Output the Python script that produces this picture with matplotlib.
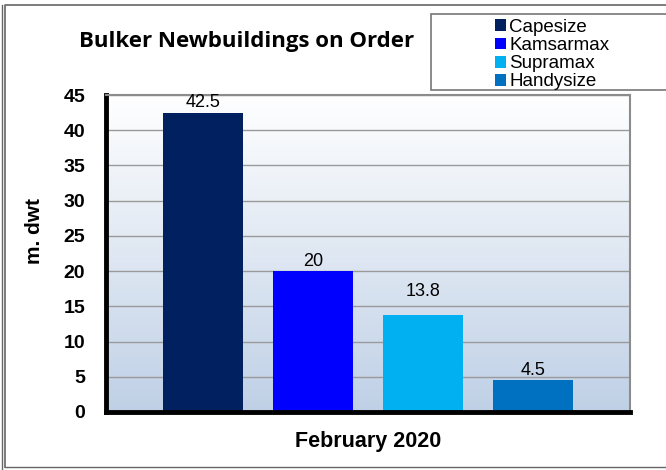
import numpy as np
import matplotlib
matplotlib.use('Agg')
import matplotlib.pyplot as plt
from matplotlib.patches import Patch, Rectangle
from matplotlib.lines import Line2D

# data
categories = ['Capesize', 'Kamsarmax', 'Supramax', 'Handysize']
values = [42.5, 20, 13.8, 4.5]
colors = ['#002060', '#0000FF', '#00B0F0', '#0070C0']
label_offsets = [1, 1, 11, 1]  # points above bar top

plt.rcParams['font.family'] = ['Liberation Sans', 'DejaVu Sans']

fig = plt.figure(figsize=(6.66, 4.70), dpi=100)
ax = fig.add_axes([106 / 666, 1 - 412 / 470, 524 / 666, 317 / 470])

# gradient background
grad = np.linspace(0, 1, 256).reshape(-1, 1)
top = np.array([1.0, 1.0, 1.0])
bot = np.array([0xBF, 0xD0, 0xE6]) / 255
img = top + (bot - top) * grad[..., None]
ax.imshow(img, extent=[0, 1, 0, 1], transform=ax.transAxes, aspect='auto', zorder=0)

x = np.arange(len(categories))
bars = ax.bar(x, values, width=0.727, color=colors, zorder=2)
for b, v, off in zip(bars, values, label_offsets):
    ax.annotate(f'{v:g}', (b.get_x() + b.get_width() / 2, v), xytext=(0, off),
                textcoords='offset points', ha='center', va='bottom', fontsize=13)

ax.set_xlim(-0.882, 3.882)
ax.set_ylim(0, 45)
ax.set_yticks(range(0, 46, 5))
ax.yaxis.grid(True, color='#9a9a9a', linewidth=1)
for gl in ax.get_ygridlines():
    gl.set_zorder(1)
ax.set_xticks([])
ax.tick_params(axis='y', length=0, pad=15, labelsize=14)
for t in ax.get_yticklabels():
    t.set_fontweight('bold')

for s in ['left', 'bottom']:
    ax.spines[s].set_color('black')
    ax.spines[s].set_linewidth(3.5)
for s in ['top', 'right']:
    ax.spines[s].set_color('#8c8c8c')
    ax.spines[s].set_linewidth(1.5)

ax.set_ylabel('m. dwt', fontsize=15, fontweight='bold')
ax.yaxis.set_label_coords((44 - 106) / 524, (412 - 231) / 317)
ax.set_xlabel('February 2020', fontsize=15.5, fontweight='bold', labelpad=14)

fig.text(247 / 666, 1 - 47 / 470, 'Bulker Newbuildings on Order', ha='center', va='baseline',
         fontsize=16, fontweight='bold', family=['Open Sans', 'DejaVu Sans'])

# legend box
fig.patches.append(Rectangle((431 / 666, 1 - 90 / 470), 240 / 666, 76 / 470,
                             transform=fig.transFigure, facecolor='white',
                             edgecolor='#777777', linewidth=1.2))
handles = [Patch(facecolor=c, edgecolor='none') for c in colors]
fig.legend(handles, categories, loc='upper left', bbox_to_anchor=(495 / 666, 1 - 19 / 470),
           frameon=False, fontsize=13.5, handlelength=0.6, handleheight=0.6,
           handletextpad=0.15, labelspacing=0.06, borderpad=0.0, borderaxespad=0.0)

# outer frame
fig.lines.append(Line2D([5 / 666, 5 / 666, 1], [1 - 467 / 470, 1 - 5 / 470, 1 - 5 / 470],
                        transform=fig.transFigure, color='#666666', linewidth=1.2))
fig.lines.append(Line2D([1.5 / 666, 1.5 / 666], [0, 1 - 5 / 470],
                        transform=fig.transFigure, color='#666666', linewidth=1.0))
fig.lines.append(Line2D([5 / 666, 1], [1 - 467 / 470, 1 - 467 / 470],
                        transform=fig.transFigure, color='#666666', linewidth=1.0))

fig.savefig('out.png', dpi=100)
